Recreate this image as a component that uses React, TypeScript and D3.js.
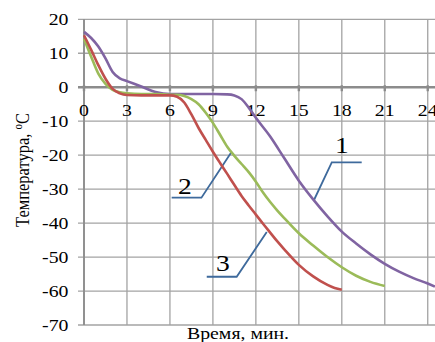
import React, { useEffect, useRef } from 'react';
import * as d3 from 'd3';

// time, minutes
const timeTicks = [0, 3, 6, 9, 12, 15, 18, 21, 24];
// temperature, °C
const tempTicks = [20, 10, 0, -10, -20, -30, -40, -50, -60, -70];

// curve 1 (purple)
const times1 = [0, 0.5, 1, 1.5, 2, 2.5, 3, 4, 5, 6, 7, 8, 9, 10, 10.5, 11, 11.5, 12, 13, 14, 15, 16, 17, 18, 19, 20, 21, 22, 23, 24, 24.5];
const temps1 = [16.3, 14.5, 12, 8.5, 4.5, 2.6, 1.8, 0.2, -1.4, -2, -2, -2, -2, -2.1, -2.4, -3.5, -6, -9, -14.5, -21, -27.5, -33, -38, -42.5, -46, -49.2, -52, -54.3, -56.2, -57.8, -58.7];

// curve 2 (green)
const times2 = [0, 0.5, 1, 1.5, 2, 2.5, 3, 4, 5, 6, 6.5, 7, 7.5, 8, 8.5, 9, 9.5, 10, 10.5, 11, 11.5, 12, 12.5, 13, 13.5, 14, 15, 16, 17, 18, 19, 20, 21];
const temps2 = [14.3, 9, 4, 1, -0.8, -1.5, -1.8, -2, -2, -2.2, -2.2, -2.6, -3.5, -5, -7.5, -10.5, -14, -17.5, -20.2, -22.6, -25, -27.8, -31, -33.8, -36.3, -38.6, -43, -46.6, -50, -53, -55.5, -57.3, -58.5];

// curve 3 (red)
const times3 = [0, 0.5, 1, 1.5, 2, 2.5, 3, 4, 5, 6, 6.5, 7, 7.5, 8, 8.5, 9, 9.5, 10, 10.5, 11, 11.5, 12, 12.5, 13, 13.5, 14, 15, 16, 17, 17.5, 18];
const temps3 = [15.3, 11, 6.5, 2.5, -0.5, -1.8, -2.3, -2.4, -2.4, -2.4, -2.8, -4.5, -8, -12, -15.5, -19, -22.3, -25.5, -28.8, -32, -34.8, -37.5, -40.2, -42.8, -45.4, -47.8, -52.3, -55.7, -58.2, -59.1, -59.6];

// callout labels and leader lines (time, temp)
const calloutNames = ['1', '2', '3'];
const calloutAt: [number, number][] = [[18.0, -19.4], [7.04, -31.5], [9.7, -54.1]];
const leaders: [number, number][][] = [
  [[19.39, -22.1], [17.3, -22.1], [16.06, -33.2]],
  [[6.12, -32.5], [8.2, -32.5], [10.31, -19.0]],
  [[8.57, -55.8], [10.66, -55.8], [12.76, -42.6]],
];

const W = 435;
const H = 342;
const FONT = 'Liberation Serif';
const SX = 1.2; // the source picture is stretched sideways

const App = () => {
  const svgRef = useRef<SVGSVGElement>(null);

  useEffect(() => {
    const svg = d3.select(svgRef.current);
    svg.selectAll('*').remove();

    const x = d3.scaleLinear().domain([0, 24.5]).range([84, 434.9]);
    const y = d3.scaleLinear().domain([20, -70]).range([19.3, 325]);

    // grid
    const grid = svg.append('g').attr('stroke', '#a3a3a3').attr('stroke-width', 1.3);
    grid.selectAll('line.h')
      .data(tempTicks.filter(d => d !== 0))
      .enter().append('line')
      .attr('x1', 78).attr('x2', W)
      .attr('y1', d => y(d)).attr('y2', d => y(d));
    grid.selectAll('line.v')
      .data(timeTicks)
      .enter().append('line')
      .attr('x1', d => x(d)).attr('x2', d => x(d))
      .attr('y1', y(20)).attr('y2', y(-70));

    // zero line with ticks
    svg.append('line')
      .attr('x1', 78).attr('x2', W)
      .attr('y1', y(0)).attr('y2', y(0))
      .attr('stroke', '#8c8c8c').attr('stroke-width', 2.4);
    svg.selectAll('line.xt')
      .data(timeTicks)
      .enter().append('line')
      .attr('x1', d => x(d)).attr('x2', d => x(d))
      .attr('y1', y(0) - 2).attr('y2', y(0) + 4)
      .attr('stroke', '#8c8c8c').attr('stroke-width', 2.4);
    svg.append('line')
      .attr('x1', x(0)).attr('x2', x(0))
      .attr('y1', y(20)).attr('y2', y(-70))
      .attr('stroke', '#8c8c8c').attr('stroke-width', 1.8);

    // tick labels
    svg.selectAll('text.yl')
      .data(tempTicks)
      .enter().append('text')
      .attr('transform', d => `translate(68.5,${y(d) + 5.6}) scale(${SX},1)`)
      .attr('text-anchor', 'end')
      .attr('font-family', FONT).attr('font-size', 16.5)
      .text(d => (d < 0 ? '-' + Math.abs(d) : String(d)));
    svg.selectAll('text.xl')
      .data(timeTicks)
      .enter().append('text')
      .attr('transform', d => `translate(${x(d)},115.5) scale(${SX},1)`)
      .attr('text-anchor', 'middle')
      .attr('font-family', FONT).attr('font-size', 16.5)
      .text(d => String(d));

    // leader lines
    const line = d3.line<[number, number]>().x(d => x(d[0])).y(d => y(d[1]));
    svg.selectAll('path.leader')
      .data(leaders)
      .enter().append('path')
      .attr('d', d => line(d))
      .attr('fill', 'none').attr('stroke', '#3e6a9c').attr('stroke-width', 1.8);

    // curves
    const series = [
      { t: times1, v: temps1, color: '#8064a2' },
      { t: times2, v: temps2, color: '#9bbb59' },
      { t: times3, v: temps3, color: '#c0504d' },
    ];
    series.forEach(s => {
      const pts: [number, number][] = s.t.map((t, i) => [x(t), y(s.v[i])]);
      svg.append('path')
        .attr('d', d3.line().curve(d3.curveMonotoneX)(pts))
        .attr('fill', 'none').attr('stroke', s.color).attr('stroke-width', 2.6);
    });

    // callout labels
    svg.selectAll('text.callout')
      .data(calloutNames)
      .enter().append('text')
      .attr('transform', (d, i) => `translate(${x(calloutAt[i][0])},${y(calloutAt[i][1])}) scale(${SX},1)`)
      .attr('text-anchor', 'middle')
      .attr('font-family', FONT).attr('font-size', 23)
      .text(d => d);

    // axis titles
    svg.append('text')
      .attr('transform', `translate(238,338.5) scale(${SX},1)`)
      .attr('text-anchor', 'middle')
      .attr('font-family', FONT).attr('font-size', 16.5)
      .text('Время, мин.');

    const yt = svg.append('text')
      .attr('transform', `translate(29,170) scale(${SX},1) rotate(-90)`)
      .attr('text-anchor', 'middle')
      .attr('font-family', FONT).attr('font-size', 16.5);
    yt.append('tspan').text('Температура, ');
    yt.append('tspan').attr('font-size', 11).attr('dy', -6).text('o');
    yt.append('tspan').attr('dy', 6).text('C');
  }, []);

  return (
    <svg ref={svgRef} width={W} height={H}
      style={{ position: 'absolute', left: 0, top: 0, background: '#fff' }} />
  );
};

export default App;
